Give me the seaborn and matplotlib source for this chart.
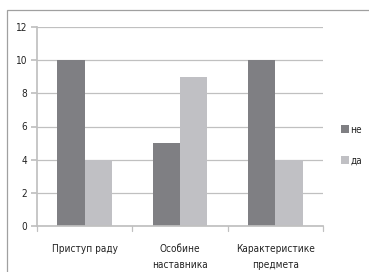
import pandas as pd
import matplotlib.pyplot as plt
import seaborn as sns
from matplotlib.patches import Rectangle

# values
categories = ['Приступ раду', 'Особине\nнаставника', 'Карактеристике\nпредмета']
series_names = ['не', 'да']
ne_values = [10, 5, 10]
da_values = [4, 9, 4]
y_ticks = [0, 2, 4, 6, 8, 10, 12]

df = pd.DataFrame({
    'category': categories * 2,
    'answer': [series_names[0]] * 3 + [series_names[1]] * 3,
    'count': ne_values + da_values,
})

sns.set_theme(style='white')
plt.rcParams['font.family'] = ['DejaVu Sans']
plt.rcParams['font.stretch'] = 'condensed'

fig = plt.figure(figsize=(3.69, 2.72), dpi=100)
ax = fig.add_axes([37 / 369, 1 - 226 / 272, (323 - 37) / 369, (226 - 27) / 272])

sns.barplot(data=df, x='category', y='count', hue='answer',
            palette=['#7f7f83', '#c0c0c4'], width=0.57, saturation=1,
            linewidth=0, ax=ax, legend=True)

ax.set_ylim(0, 12)
ax.set_yticks(y_ticks)
ax.set_xlim(-0.5, 2.5)
ax.set_xlabel('')
ax.set_ylabel('')
ax.yaxis.grid(True, color='#c0c0c0', linewidth=0.9)
ax.set_axisbelow(True)
for s in ['top', 'right']:
    ax.spines[s].set_visible(False)
ax.spines['left'].set_color('#c0c0c0')
ax.spines['bottom'].set_color('#c0c0c0')

fs = 7.2
ax.tick_params(axis='y', left=True, length=4, color='#c0c0c0', labelsize=fs, pad=3, labelcolor='#222222')
ax.tick_params(axis='x', bottom=False, labelsize=fs, pad=7, labelcolor='#222222')
# x ticks sit between the categories
for xb in [-0.5, 0.5, 1.5, 2.5]:
    ax.plot([xb, xb], [0, -0.3], color='#c0c0c0', linewidth=0.9, clip_on=False)
for lbl in ax.get_xticklabels():
    lbl.set_linespacing(1.7)

leg = ax.legend(loc='center left', bbox_to_anchor=(1.063, 0.407), frameon=False,
                fontsize=fs, handlelength=0.75, handleheight=0.75, borderpad=0,
                handletextpad=0.2, labelspacing=2.1, borderaxespad=0)
for t in leg.get_texts():
    t.set_color('#222222')

# outer frame of the chart area
fig.patches.append(Rectangle((7 / 369, -0.01), 1.0, 1 - 10 / 272 + 0.01,
                             transform=fig.transFigure, fill=False,
                             edgecolor='#a0a0a0', linewidth=0.9))

fig.savefig('out.png', dpi=100)
